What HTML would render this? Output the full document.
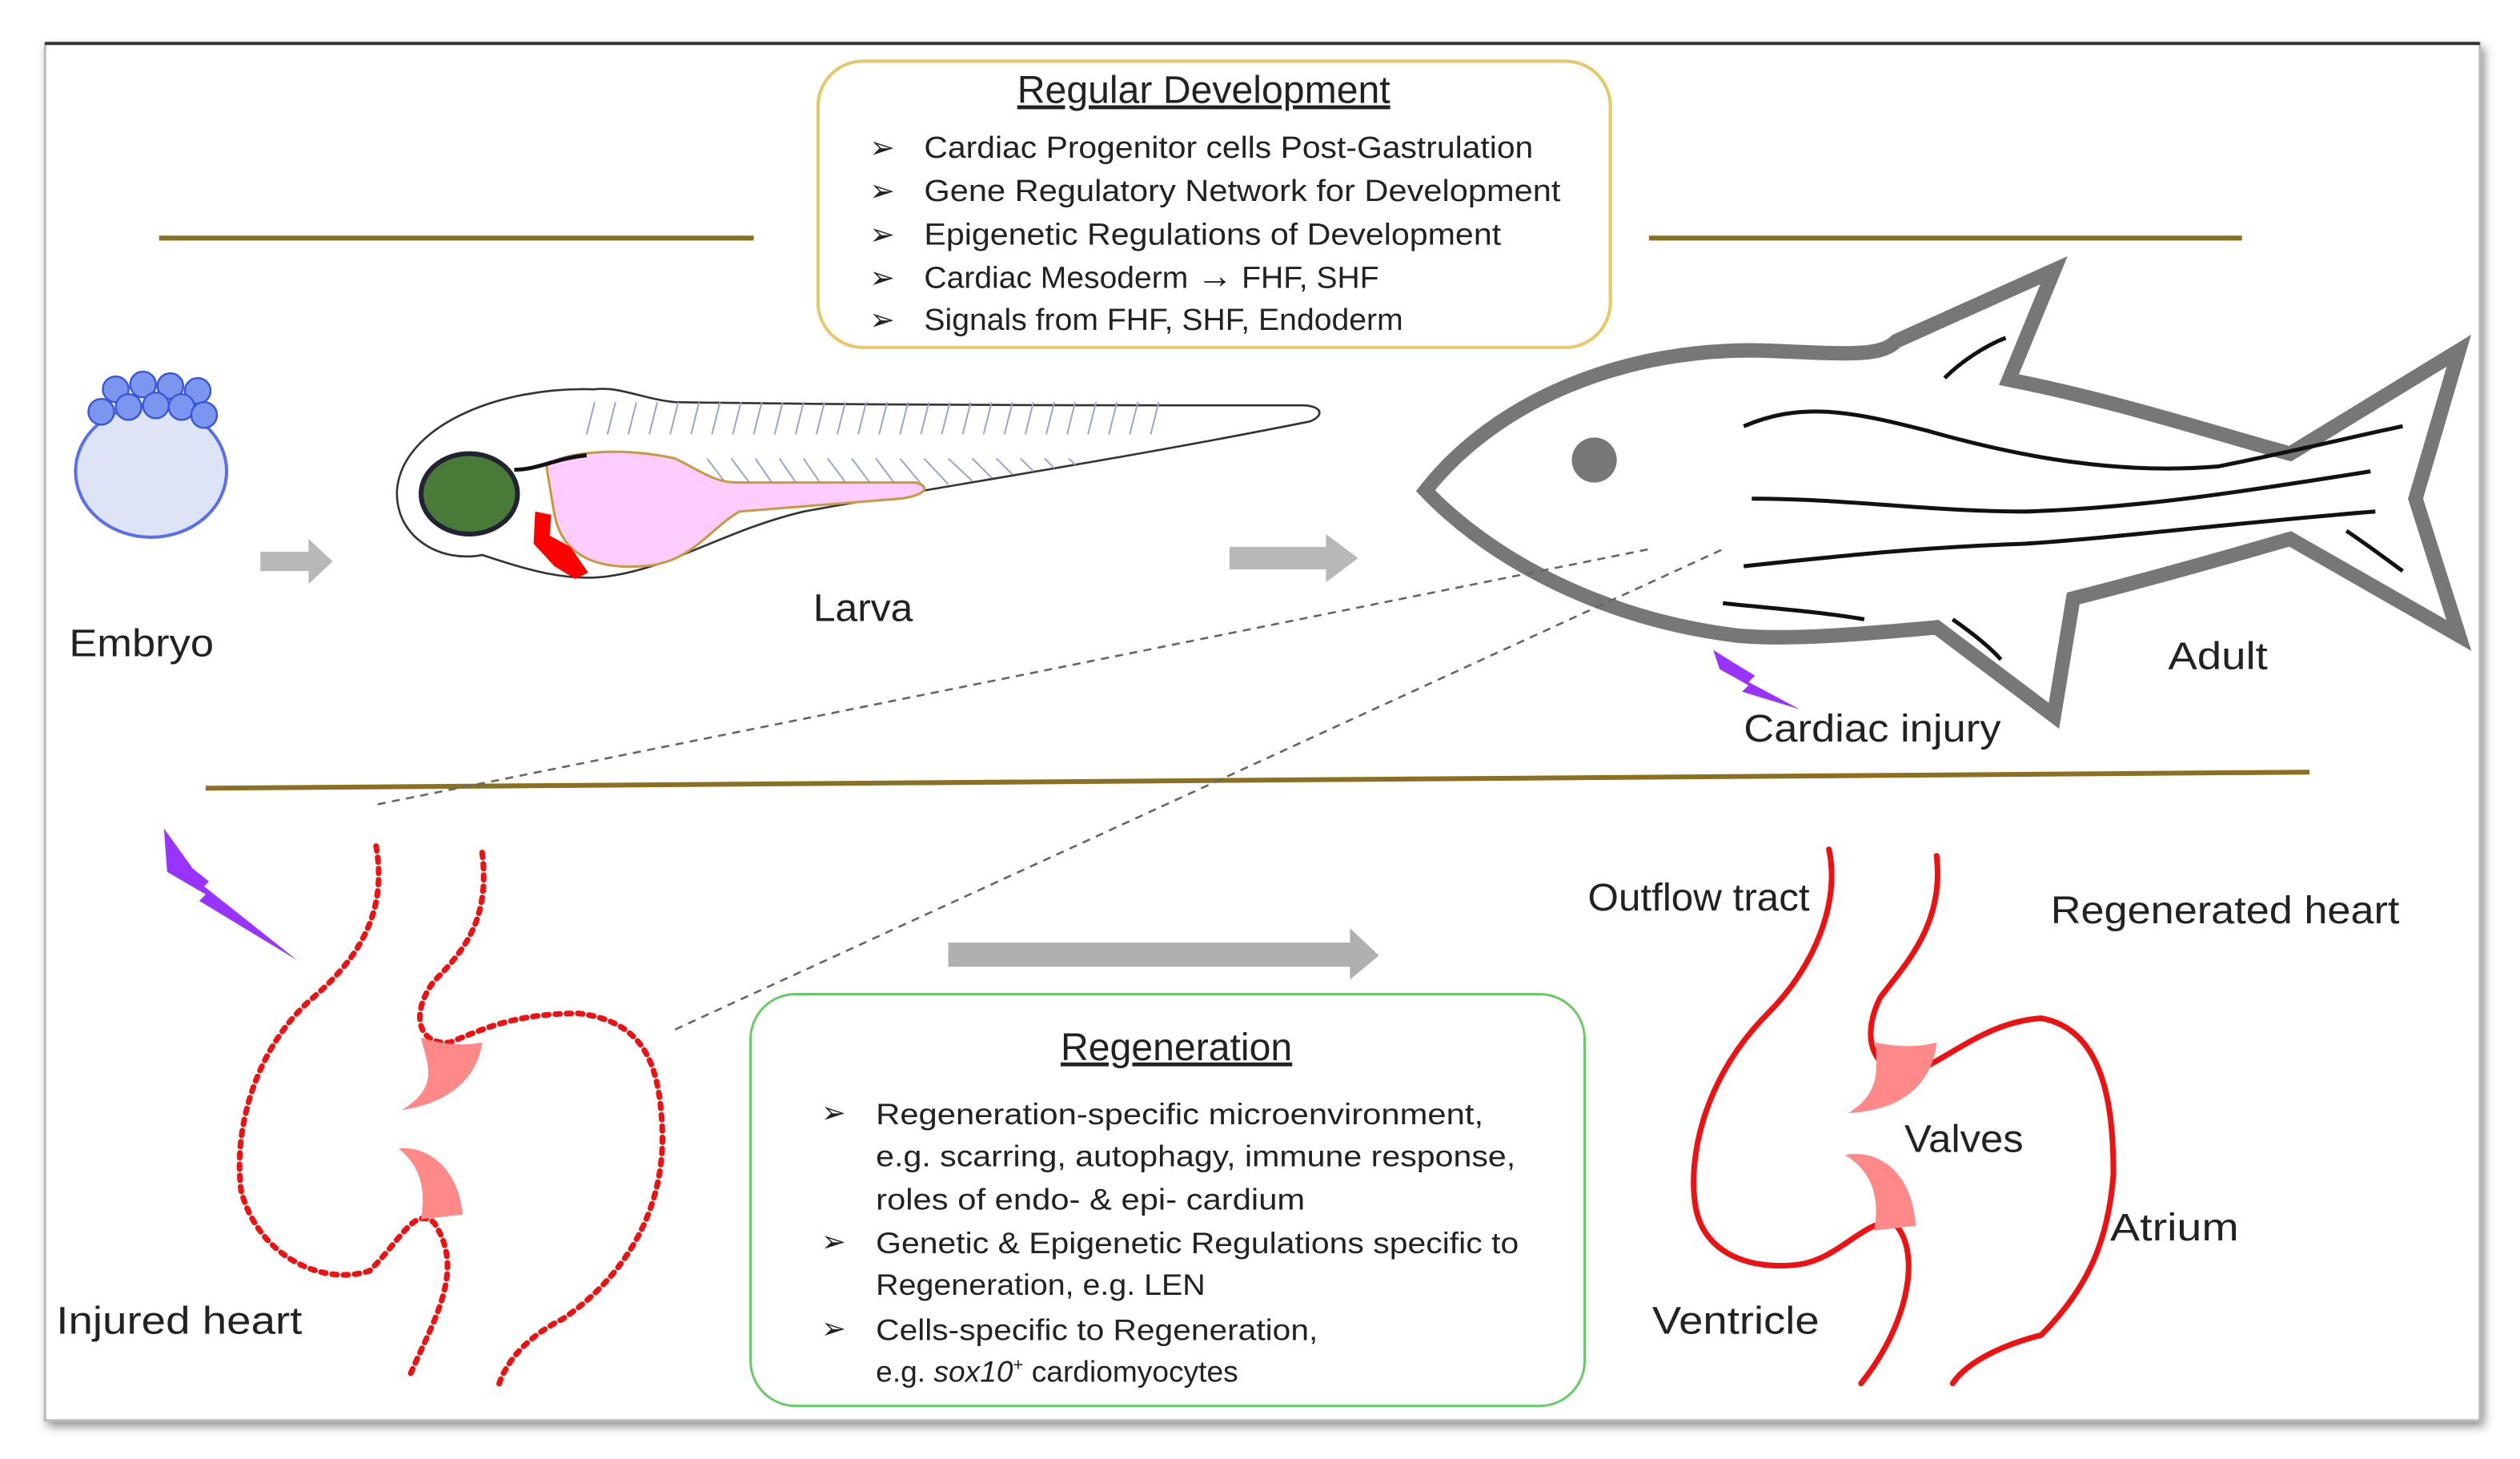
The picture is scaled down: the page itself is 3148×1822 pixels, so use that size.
<!DOCTYPE html>
<html><head><style>
html,body{margin:0;padding:0;background:#fff;}
svg{display:block;}
text{font-family:"Liberation Sans",sans-serif;fill:#222;}
</style></head><body>
<svg width="3148" height="1822" viewBox="0 0 1568 907" preserveAspectRatio="none" xmlns="http://www.w3.org/2000/svg">
<defs>
<filter id="sh" x="-5%" y="-5%" width="110%" height="110%"><feDropShadow dx="2" dy="3" stdDeviation="3" flood-color="#000" flood-opacity="0.45"/></filter>
</defs>
<rect x="28" y="27" width="1515" height="856" fill="#fff" stroke="#bbb" stroke-width="1.5" filter="url(#sh)"/>
<line x1="28" y1="27" x2="1543" y2="27" stroke="#333" stroke-width="2"/>

<line x1="99" y1="148" x2="469" y2="148" stroke="#8a7020" stroke-width="3"/>
<line x1="1026" y1="148" x2="1395" y2="148" stroke="#8a7020" stroke-width="3"/>
<line x1="128" y1="490" x2="1437" y2="480" stroke="#8a7020" stroke-width="3"/>

<rect x="509" y="38" width="493" height="178" rx="28" fill="#fff" stroke="#e8c766" stroke-width="2"/>
<text x="749" y="64" font-size="24" text-anchor="middle" text-decoration="underline">Regular Development</text>
<g font-size="19">
<text x="541" y="98">➢</text><text x="575" y="98" textLength="379" lengthAdjust="spacingAndGlyphs">Cardiac Progenitor cells Post-Gastrulation</text>
<text x="541" y="125">➢</text><text x="575" y="125" textLength="396" lengthAdjust="spacingAndGlyphs">Gene Regulatory Network for Development</text>
<text x="541" y="152">➢</text><text x="575" y="152" textLength="359" lengthAdjust="spacingAndGlyphs">Epigenetic Regulations of Development</text>
<text x="541" y="179">➢</text><text x="575" y="179" textLength="283" lengthAdjust="spacingAndGlyphs">Cardiac Mesoderm <tspan font-size="22">→</tspan> FHF, SHF</text>
<text x="541" y="205">➢</text><text x="575" y="205" textLength="298" lengthAdjust="spacingAndGlyphs">Signals from FHF, SHF, Endoderm</text>
</g>

<ellipse cx="94" cy="293" rx="47" ry="41" fill="#dde4f6" stroke="#5870f0" stroke-width="2"/>
<g fill="#7b96ee" stroke="#3a55d8" stroke-width="1.2">
<circle cx="72" cy="242" r="8"/><circle cx="89" cy="239" r="8"/><circle cx="106" cy="240" r="8"/><circle cx="123" cy="243" r="8"/>
<circle cx="63" cy="256" r="8"/><circle cx="80" cy="253" r="8"/><circle cx="97" cy="252" r="8"/><circle cx="113" cy="253" r="8"/><circle cx="127" cy="258" r="8"/>
</g>
<text x="43" y="408" font-size="24" textLength="90" lengthAdjust="spacingAndGlyphs">Embryo</text>
<polygon points="162,343 192,343 192,335 207,349 192,363 192,355 162,355" fill="#b8b8b8"/>

<path d="M370,242 C310,240 250,265 247,305 C246,335 275,350 300,345 C330,355 355,362 380,358 C420,352 450,330 500,318 C600,300 700,285 815,262 C825,258 822,252 810,252 C700,252 550,252 420,250 C400,248 385,240 370,242 Z" fill="#fff" stroke="#333" stroke-width="1.3"/>
<g stroke="#9aa6c4" stroke-width="1">
<path d="M365,270 l5,-20 M378,270 l5,-20 M391,270 l5,-20 M404,270 l5,-20 M417,270 l5,-20 M430,270 l5,-20 M443,270 l5,-20 M456,270 l5,-20 M469,270 l5,-20 M482,270 l5,-20 M495,270 l5,-20 M508,270 l5,-20 M521,270 l5,-20 M534,270 l5,-20 M547,270 l5,-20 M560,270 l5,-20 M573,270 l5,-20 M586,270 l5,-20 M599,270 l5,-20 M612,270 l5,-20 M625,270 l5,-20 M638,270 l5,-20 M651,270 l5,-20 M664,270 l5,-20 M677,270 l5,-20 M690,270 l5,-20 M703,270 l5,-20 M716,270 l5,-20"/>
<path d="M440,285 l15,20 M455,285 l15,20 M470,285 l15,22 M485,285 l15,22 M500,285 l15,22 M515,285 l15,20 M530,285 l15,20 M545,285 l15,20 M560,285 l15,18 M575,285 l15,16 M590,285 l15,14 M605,285 l12,12 M620,285 l10,10 M635,285 l8,8 M650,285 l6,6 M665,285 l4,4"/>
</g>
<path d="M340,290 C350,280 390,278 420,285 C440,295 445,300 460,300 L570,300 C580,303 575,308 560,310 L460,318 C440,330 430,350 400,352 C370,354 350,345 345,320 Z" fill="#ffccff" stroke="#c89a40" stroke-width="1.5"/>
<path d="M320,292 C335,292 345,285 365,283" fill="none" stroke="#111" stroke-width="2.5"/>
<ellipse cx="292" cy="307" rx="30" ry="25" fill="#4a7a38" stroke="#223" stroke-width="3"/>
<path d="M333,318 L343,320 L342,333 L355,340 L366,356 L358,360 L345,352 L332,338 Z" fill="#ff0000"/>
<text x="506" y="386" font-size="24" textLength="62" lengthAdjust="spacingAndGlyphs">Larva</text>
<polygon points="765,340 825,340 825,332 845,347 825,362 825,354 765,354" fill="#b8b8b8"/>

<path d="M887,305 C930,250 1010,215 1100,218 C1150,220 1170,222 1180,212 L1278,168 L1250,236 C1320,250 1380,270 1425,282 L1530,218 L1503,310 L1530,395 L1425,335 C1380,348 1330,362 1290,372 L1278,445 L1205,390 C1150,395 1110,398 1080,395 C1000,385 930,350 887,305 Z" fill="none" stroke="#777" stroke-width="9" stroke-linejoin="miter"/>
<circle cx="992" cy="286" r="14" fill="#777"/>
<g fill="none" stroke="#111" stroke-width="2.5">
<path d="M1085,265 C1120,250 1150,255 1200,268 C1260,285 1320,295 1380,290 C1430,280 1470,270 1495,265"/>
<path d="M1090,310 C1150,310 1200,318 1260,318 C1330,316 1400,305 1475,293"/>
<path d="M1085,352 C1150,345 1200,340 1260,338 C1320,334 1390,325 1478,318"/>
<path d="M1072,375 C1100,378 1130,380 1160,385"/>
<path d="M1210,235 C1220,225 1235,215 1248,210"/>
<path d="M1215,385 C1225,392 1238,402 1245,410"/>
<path d="M1460,330 C1475,340 1488,350 1495,355"/>
</g>
<polygon points="1066,404 1082,414 1092,420 1088,424 1120,441 1084,430 1088,426 1070,416" fill="#9933ff"/>
<text x="1085" y="461" font-size="24" textLength="160" lengthAdjust="spacingAndGlyphs">Cardiac injury</text>
<text x="1349" y="416" font-size="24" textLength="62" lengthAdjust="spacingAndGlyphs">Adult</text>

<line x1="235" y1="500" x2="1028" y2="341" stroke="#666" stroke-width="1.3" stroke-dasharray="5,4"/>
<line x1="420" y1="640" x2="1073" y2="341" stroke="#666" stroke-width="1.3" stroke-dasharray="5,4"/>

<polygon points="102,515 120,540 130,548 127,551 185,597 124,560 128,556 104,542" fill="#9933ff"/>
<g fill="none" stroke="#ee1111" stroke-width="3.5" stroke-dasharray="3,4" stroke-linecap="round">
<path d="M234,526 C240,560 230,590 195,620 C160,650 145,700 150,740 C160,780 200,800 230,790 C250,770 258,750 270,760 C290,790 270,820 255,855"/>
<path d="M300,530 C305,570 290,590 270,610 C255,630 260,650 280,648 C300,640 320,630 360,630 C400,635 410,660 412,700 C415,760 380,800 350,820 C330,830 315,845 310,862"/>
</g>
<path d="M262,645 C278,650 290,650 300,648 C298,665 285,685 250,690 C275,675 265,660 262,645 Z" fill="#f88"/>
<path d="M248,714 C265,712 285,725 288,755 L262,758 C265,740 262,725 248,714 Z" fill="#f88"/>
<text x="35" y="829" font-size="24" textLength="153" lengthAdjust="spacingAndGlyphs">Injured heart</text>

<polygon points="590,586 840,586 840,577 858,594 840,609 840,601 590,601" fill="#b0b0b0"/>

<rect x="467" y="618" width="519" height="256" rx="28" fill="#fff" stroke="#6c6" stroke-width="1.5"/>
<text x="732" y="659" font-size="24" text-anchor="middle" text-decoration="underline">Regeneration</text>
<g font-size="18.5">
<text x="511" y="698">➢</text><text x="545" y="699" textLength="378" lengthAdjust="spacingAndGlyphs">Regeneration-specific microenvironment,</text>
<text x="545" y="725" textLength="398" lengthAdjust="spacingAndGlyphs">e.g. scarring, autophagy, immune response,</text>
<text x="545" y="752" textLength="267" lengthAdjust="spacingAndGlyphs">roles of endo- &amp; epi- cardium</text>
<text x="511" y="778">➢</text><text x="545" y="779" textLength="400" lengthAdjust="spacingAndGlyphs">Genetic &amp; Epigenetic Regulations specific to</text>
<text x="545" y="805" textLength="205" lengthAdjust="spacingAndGlyphs">Regeneration, e.g. LEN</text>
<text x="511" y="832">➢</text><text x="545" y="833" textLength="275" lengthAdjust="spacingAndGlyphs">Cells-specific to Regeneration,</text>
<text x="545" y="859">e.g. <tspan font-style="italic">sox10</tspan><tspan font-size="11" dy="-7">+</tspan><tspan dy="7"> cardiomyocytes</tspan></text>
</g>

<g fill="none" stroke="#ee1111" stroke-width="3.5" stroke-linecap="round">
<path d="M1138,528 C1145,560 1130,600 1100,630 C1060,670 1050,720 1055,750 C1060,780 1090,790 1120,786 C1145,782 1160,758 1178,760 C1195,775 1190,820 1158,860"/>
<path d="M1205,532 C1210,575 1185,600 1170,620 C1155,650 1170,672 1195,665 C1220,652 1240,635 1270,633 C1310,640 1315,690 1315,730 C1312,770 1300,800 1270,830 C1250,835 1225,845 1215,860"/>
</g>
<path d="M1167,648 C1185,652 1198,650 1205,648 C1203,668 1190,690 1150,692 C1170,680 1168,665 1167,648 Z" fill="#f88"/>
<path d="M1148,718 C1168,714 1190,728 1192,762 L1166,765 C1170,745 1165,728 1148,718 Z" fill="#f88"/>
<text x="988" y="566" font-size="24" textLength="138" lengthAdjust="spacingAndGlyphs">Outflow tract</text>
<text x="1276" y="574" font-size="24" textLength="217" lengthAdjust="spacingAndGlyphs">Regenerated heart</text>
<text x="1185" y="716" font-size="24" textLength="74" lengthAdjust="spacingAndGlyphs">Valves</text>
<text x="1313" y="771" font-size="24" textLength="80" lengthAdjust="spacingAndGlyphs">Atrium</text>
<text x="1028" y="829" font-size="24" textLength="104" lengthAdjust="spacingAndGlyphs">Ventricle</text>
</svg>
</body></html>
